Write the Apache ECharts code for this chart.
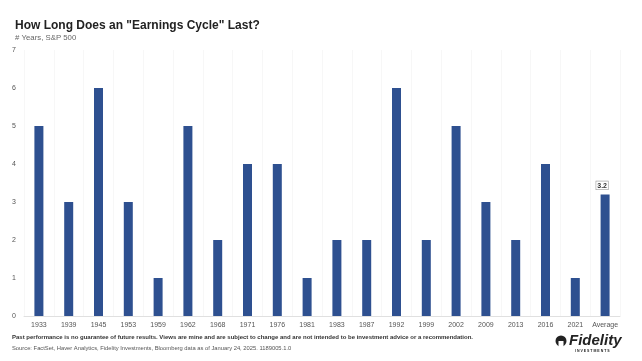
<!DOCTYPE html>
<html><head><meta charset="utf-8">
<script src="https://cdn.jsdelivr.net/npm/echarts@6/dist/echarts.min.js"></script>
<style>html,body{margin:0;padding:0;background:#fff}#c{width:642px;height:361px}</style>
</head><body><div id="c"></div>
<script>
const categories = ['1933','1939','1945','1953','1959','1962','1968','1971','1976','1981','1983','1987','1992','1999','2002','2009','2013','2016','2021','Average'];
const years = [5,3,6,3,1,5,2,4,4,1,2,2,6,2,5,3,2,4,1,3.2];
const yTicks = [0,1,2,3,4,5,6,7];

const chart = echarts.init(document.getElementById('c'));
const data = years.map((v,i)=> i===years.length-1 ? {value:v,label:{show:true,position:'top',offset:[-3,0],formatter:'{b|'+v+'}',rich:{b:{fontSize:7,fontWeight:'bold',color:'#333',borderColor:'#999',borderWidth:0.6,padding:[1,1,0,1],backgroundColor:'#fff'}}}} : v);
chart.setOption({
  animation:false,
  title:[
    {text:'How Long Does an "Earnings Cycle" Last?',left:10,top:15,textStyle:{fontFamily:'Liberation Sans',fontSize:12,fontWeight:'bold',color:'#222'}},
    {text:'# Years, S&P 500',left:10,top:29,textStyle:{fontFamily:'Liberation Sans',fontSize:7.8,fontWeight:'normal',color:'#666'}}
  ],
  grid:{left:24,right:22,top:50,bottom:45,containLabel:false},
  xAxis:{type:'category',data:categories,
    axisLine:{lineStyle:{color:'#e0e0e0'}},axisTick:{show:false},
    splitLine:{show:true,lineStyle:{color:'#f7f7f7'}},
    axisLabel:{fontFamily:'Liberation Sans',fontSize:7,color:'#555',margin:6,interval:0}},
  yAxis:{type:'value',min:0,max:7,interval:1,
    axisLine:{show:false},axisTick:{show:false},splitLine:{show:false},
    axisLabel:{fontFamily:'Liberation Sans',fontSize:7,color:'#555',margin:8,formatter:v=>yTicks.includes(v)?String(v):''}},
  series:[{type:'bar',data:data,barWidth:9,itemStyle:{color:'#2E5090'}}],
  graphic:[
    {type:'text',left:12,top:334,style:{text:'Past performance is no guarantee of future results. Views are mine and are subject to change and are not intended to be investment advice or a recommendation.',fontFamily:'Liberation Sans Narrow, Liberation Sans',fontSize:6,fontWeight:'bold',fill:'#333'}},
    {type:'text',left:12,top:345,style:{text:'Source: FactSet, Haver Analytics, Fidelity Investments, Bloomberg data as of January 24, 2025. 1189005.1.0',fontFamily:'Liberation Sans Narrow, Liberation Sans',fontSize:5.8,fill:'#555'}},
    {type:'text',left:569,top:333,style:{text:'Fidelity',fontFamily:'Liberation Sans',fontSize:15,fontWeight:'bold',fontStyle:'italic',fill:'#222'}},
    {type:'text',left:575,top:349,style:{text:'I N V E S T M E N T S',fontFamily:'Liberation Sans',fontSize:3.5,fontWeight:'bold',fill:'#222'}},
    {type:'circle',shape:{cx:561,cy:341,r:5.5},style:{fill:'#222'}},
    {type:'rect',shape:{x:558.5,y:341,width:5,height:6},style:{fill:'#fff'}}
  ]
});
</script></body></html>
